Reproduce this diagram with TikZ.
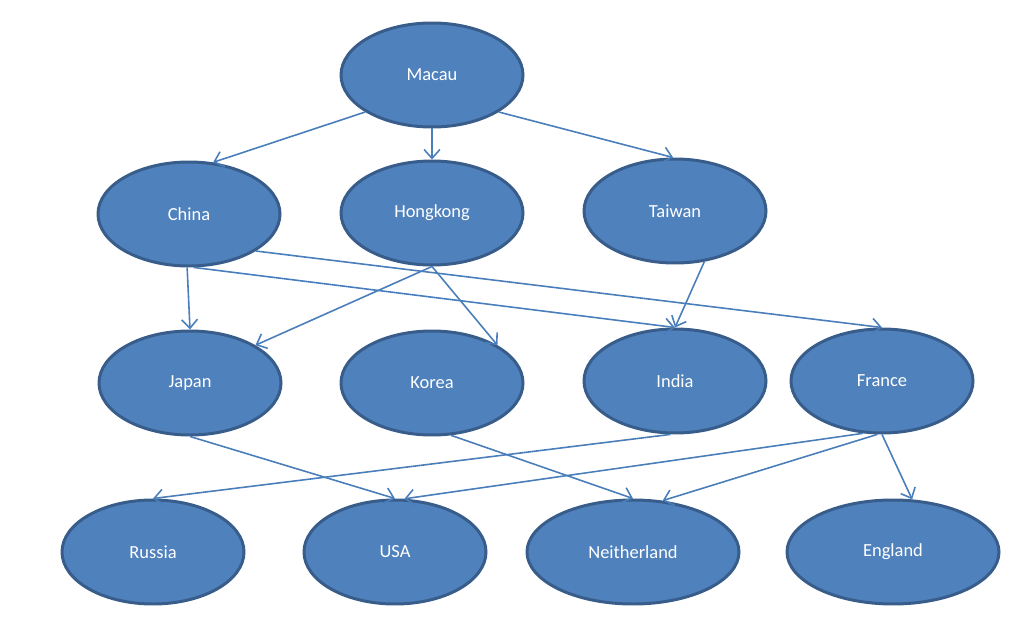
\documentclass[tikz,border=0pt]{standalone}
\usepackage{fontspec}
\setmainfont{Carlito}
\usetikzlibrary{arrows.meta,shapes.geometric,positioning}
\definecolor{cfill}{HTML}{4F81BD}
\definecolor{cdraw}{HTML}{385D8A}
\definecolor{cline}{HTML}{4A7EBB}
\tikzset{
  place/.style={ellipse,fill=cfill,draw=cdraw,line width=1.7pt,text=white,
    font=\fontsize{10.5}{12}\selectfont,minimum width=3.64cm,minimum height=2.08cm,inner sep=0pt},
  wide/.style={place,minimum width=4.24cm},
  link/.style={-{Straight Barb[length=5pt,width=9pt]},cline,line width=0.9pt}
}
\begin{document}
\begin{tikzpicture}
    \useasboundingbox (0,0) rectangle (20.34,12.6);
    \node (Mac) at (8.64,11.1) [place] {Macau};
    \node (Chi) at (3.78,8.32) [place] {China};
    \node (Hon) at (8.64,8.34) [place] {Hongkong};
    \node (Tai) at (13.5,8.38) [place] {Taiwan};
    \node (Jap) at (3.8,4.94) [place] {Japan};
    \node (Kor) at (8.64,4.94) [place] {Korea};
    \node (Ind) at (13.5,4.98) [place] {India};
    \node (Fra) at (17.64,4.98) [place] {France};
    \node (Rus) at (3.06,1.56) [place] {Russia};
    \node (USA) at (7.9,1.56) [place] {USA};
    \node (Nei) at (12.66,1.56) [wide] {Neitherland};
    \node (Eng) at (17.86,1.56) [wide] {England};

    \draw[link] (Mac.209) to (Chi.65);
    \draw[link] (Mac.south) to (Hon.north);
    \draw[link] (Mac.331) to (Tai.92);
    \draw[link] (Chi.268) to (Jap.north);
    \draw[link] (Chi.275) to (Ind.north);
    \draw[link] (Chi.331) to (Fra.north);
    \draw[link] (Hon.south) to (Jap.30);
    \draw[link] (Hon.south) to (Kor.30);
    \draw[link] (Tai.300) to (Ind.north);
    \draw[link] (Jap.south) to (USA.north);
    \draw[link] (Kor.290) to (Nei.north);
    \draw[link] (Ind.265) to (Rus.north);
    \draw[link] (Fra.250) to (USA.80);
    \draw[link] (Fra.265) to (Nei.60);
    \draw[link] (Fra.south) to (Eng.70);
  \end{tikzpicture}
\end{document}
